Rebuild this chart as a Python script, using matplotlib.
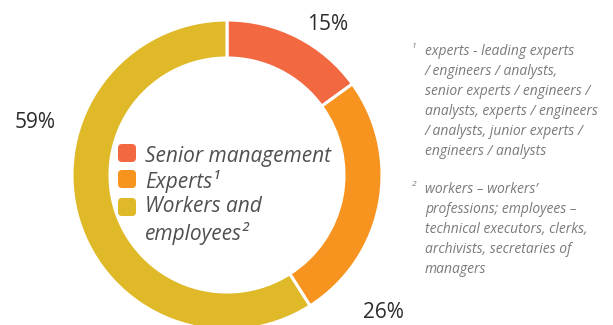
import matplotlib
matplotlib.use('Agg')
import matplotlib.pyplot as plt
import matplotlib.patches as mpatches

# --- Data ---
categories = ['Senior management', 'Experts\u00b9', 'Workers and\nemployees\u00b2']
shares = [15, 26, 59]
colors = ['#F26841', '#F7941F', '#DFB928']

notes = [
    ('1', 'experts - leading experts\n/ engineers / analysts,\nsenior experts / engineers /\n'
          'analysts, experts / engineers\n/ analysts, junior experts /\nengineers / analysts'),
    ('2', 'workers \u2013 workers\u2019\nprofessions; employees \u2013\ntechnical executors, clerks,\n'
          'archivists, secretaries of\nmanagers'),
]

W, H = 613, 325
fig = plt.figure(figsize=(W / 100, H / 100), dpi=100)
fig.patch.set_facecolor('white')

# donut: centre (227,175) px, radius 155 px
cx, cy, r = 227, 175, 155
ax = fig.add_axes([(cx - r) / W, (H - cy - r) / H, 2 * r / W, 2 * r / H])
ax.pie(shares, colors=colors, startangle=90, counterclock=False, radius=1.0,
       wedgeprops=dict(width=0.245, edgecolor='white', linewidth=2.2))
ax.set_xlim(-1, 1)
ax.set_ylim(-1, 1)
ax.set_aspect('equal')
ax.axis('off')

# overlay in pixel coordinates for annotations
ov = fig.add_axes([0, 0, 1, 1], facecolor='none')
ov.set_xlim(0, W)
ov.set_ylim(H, 0)
ov.axis('off')

pct_pos = [(328, 24), (383, 312), (35, 122)]
for v, (px, py) in zip(shares, pct_pos):
    ov.text(px, py, f'{v}%', ha='center', va='center',
            fontsize=15, color='#2b2b2b', fontfamily='Open Sans')

# legend inside the hole
box_y = [144, 170, 198]
text_y = [156.5, 181.5, 220.5]
for lab, col, by, ty in zip(categories, colors, box_y, text_y):
    ov.add_patch(mpatches.FancyBboxPatch((118, by), 18, 18,
                                         boxstyle='round,pad=0,rounding_size=4',
                                         facecolor=col, edgecolor='none'))
    ov.text(145, ty, lab, ha='left', va='center', fontsize=15, style='italic',
            color='#505050', fontfamily='Open Sans', linespacing=1.26)

# footnotes
note_top = [44, 182]
for (mark, txt), yy in zip(notes, note_top):
    ov.text(412, yy + 3, mark, ha='left', va='center', fontsize=6,
            style='italic', color='#777777', fontfamily='Open Sans')
    ov.text(425, yy, txt, ha='left', va='top', fontsize=10,
            style='italic', color='#7a7a7a', fontfamily='Open Sans', linespacing=1.45)

fig.savefig('out.png', dpi=100, facecolor='white')
